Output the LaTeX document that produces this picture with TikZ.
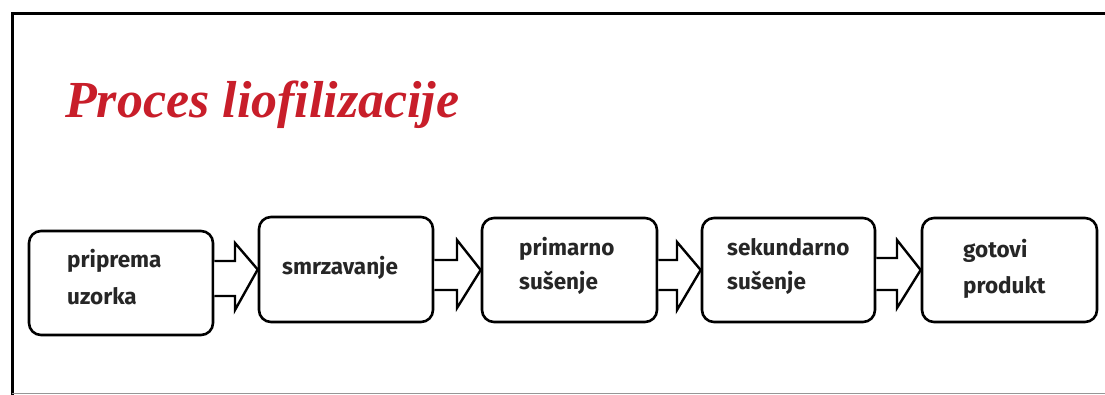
\documentclass[tikz,border=0pt]{standalone}
\usepackage{fontspec}
\newfontfamily\boxfont{Fira Sans}
\newfontfamily\titlefont{Liberation Serif}
\definecolor{titlered}{RGB}{200,30,42}
\definecolor{framegray}{RGB}{150,150,150}
\tikzset{
  stepbox/.style={draw=black, line width=2.6pt, rounded corners=12pt, fill=white, inner sep=0pt},
  steptext/.style={anchor=base west, inner sep=0pt, font=\boxfont\bfseries\fontsize{22.5}{26}\selectfont, text=black!85},
  blockarrow/.style={draw=black, line width=2.4pt, fill=white, line join=miter},
}
\newcommand\barrow[7]{% a, b, shaft top, shaft bottom, head top, head bottom, head base x
  \draw[blockarrow] (#1.east |- 0,#3) -- (#7,#3) -- (#7,#5) -- (#2.west) -- (#7,#6) -- (#7,#4) -- (#1.east |- 0,#4);
}
\begin{document}
\begin{tikzpicture}[x=1pt,y=-1pt]
\useasboundingbox (0,0) rectangle (1105,395);
\fill[white] (0,0) rectangle (1105,395);
% frame
\draw[line width=3pt, black] (12,395) -- (12,14) -- (1105,14);
\draw[line width=1pt, framegray] (12,393.5) -- (1105,393.5);
% title
\node[anchor=base west, inner sep=0pt, text=titlered, font=\titlefont\bfseries\itshape\fontsize{52}{56}\selectfont] (title) at (65,118) {Proces liofilizacije};
% boxes
\node[stepbox, minimum width=184pt, minimum height=104pt] (b1) at (121,283) {};
\node[stepbox, minimum width=174pt, minimum height=105pt] (b2) at (346,269.5) {};
\node[stepbox, minimum width=175pt, minimum height=104pt] (b3) at (569.5,270) {};
\node[stepbox, minimum width=173pt, minimum height=104pt] (b4) at (788.5,270) {};
\node[stepbox, minimum width=175pt, minimum height=104pt] (b5) at (1009.5,270) {};
% arrows
\barrow{b1}{b2}{261}{296}{243}{310}{235}
\barrow{b2}{b3}{260}{290}{240}{308}{457}
\barrow{b3}{b4}{260}{290}{242}{310}{677}
\barrow{b4}{b5}{258}{290}{240}{308}{897}
% texts
\node[steptext] (t1a) at (67,268) {priprema};
\node[steptext] (t1b) at (67,305) {uzorka};
\node[steptext] (t2) at (282,275) {smrzavanje};
\node[steptext] (t3a) at (519,255) {primarno};
\node[steptext] (t3b) at (519,290) {sušenje};
\node[steptext] (t4a) at (727,255) {sekundarno};
\node[steptext] (t4b) at (727,290) {sušenje};
\node[steptext] (t5a) at (963,258) {gotovi};
\node[steptext] (t5b) at (963,294) {produkt};
\end{tikzpicture}
\end{document}
